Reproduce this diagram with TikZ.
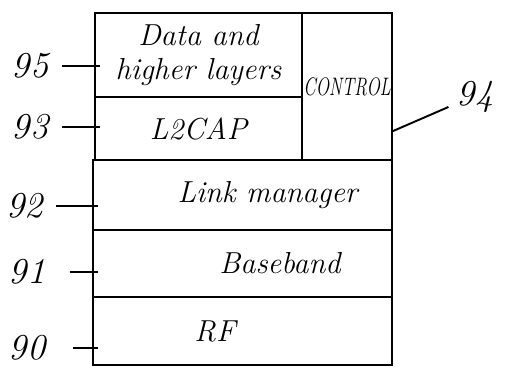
\documentclass[tikz,border=0pt]{standalone}
\usepackage{amsmath}
\usepackage{tikz}

\begin{document}
\begin{tikzpicture}[every node/.style={outer sep=0pt},
    layer/.style={draw, line width=1.2pt, inner sep=0pt, font=\LARGE\itshape},
    num/.style={font=\huge\itshape, inner sep=2pt},
    lead/.style={line width=1.1pt, shorten <=6pt, shorten >=-3pt}]
      \useasboundingbox (0,0) rectangle (10.3,7.6);
      % stack of layers
      \node[layer, minimum width=4.14cm, minimum height=1.68cm, align=center] (data) at (3.97,6.50) {Data and\\[-3pt]higher layers};
      \node[layer, minimum width=4.14cm, minimum height=1.26cm] (l2cap) at (3.97,5.03) {L2CAP};
      \node[layer, minimum width=1.8cm, minimum height=2.94cm] (control) at (6.94,5.87) {\raisebox{-0.3cm}{\scalebox{0.7}[1]{\Large CONTROL}}};
      \node[layer, minimum width=5.98cm, minimum height=1.40cm] (link) at (4.85,3.70) {\hspace*{1.0cm}Link manager};
      \node[layer, minimum width=5.98cm, minimum height=1.34cm] (baseband) at (4.85,2.33) {\hspace*{1.5cm}Baseband};
      \node[layer, minimum width=5.98cm, minimum height=1.36cm] (rf) at (4.85,0.98) {RF\hspace*{1.1cm}};
      % reference numerals
      \node[num] (n95) at (0.6,6.28) {95};
      \node[num] (n93) at (0.6,5.06) {93};
      \node[num] (n92) at (0.5,3.48) {92};
      \node[num] (n91) at (0.54,2.16) {91};
      \node[num] (n90) at (0.54,0.64) {90};
      \node[num] (n94) at (9.5,5.66) {94};
      \draw[lead] (n95.east) -- (n95.east -| data.west);
      \draw[lead] (n93.east) -- (n93.east -| l2cap.west);
      \draw[lead, shorten <=5pt] (n92.east) -- (n92.east -| link.west);
      \draw[lead, shorten <=12pt] (n91.east) -- (n91.east -| baseband.west);
      \draw[lead, shorten <=14pt] (n90.east) -- (n90.east -| rf.west);
      \draw[lead, shorten <=3pt, shorten >=0pt] (n94.200) -- ([yshift=-0.9cm]control.east);
    \end{tikzpicture}
\end{document}
